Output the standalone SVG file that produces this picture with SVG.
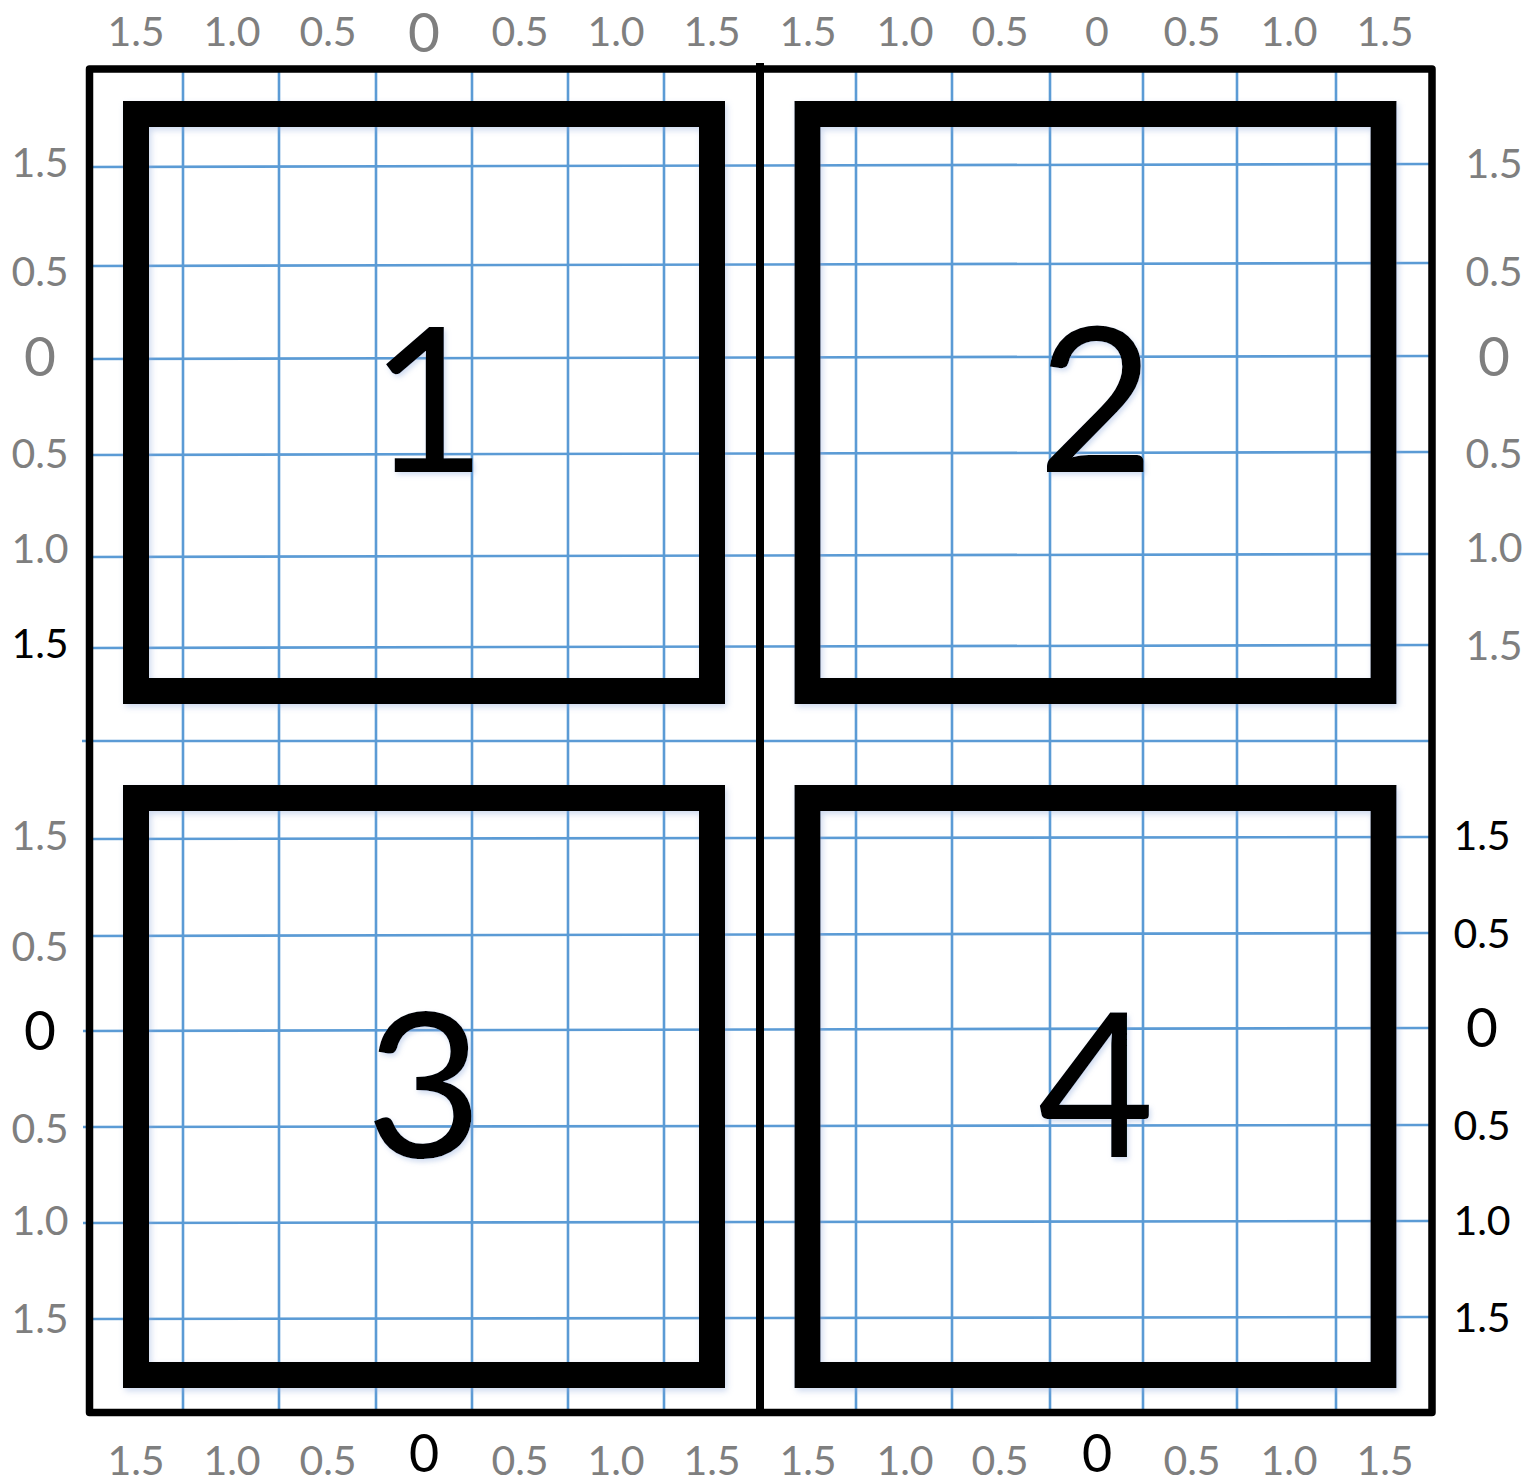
<svg xmlns="http://www.w3.org/2000/svg" width="1538" height="1484" viewBox="0 0 1538 1484">
<style>
.g{stroke:#5B9BD5;stroke-width:2.6;fill:none}
.f{stroke:#000;fill:none;stroke-linejoin:round}
.sq{fill:none;stroke:#000;stroke-width:26;filter:url(#sh)}
.t{font-family:Lato,"Liberation Sans",sans-serif;font-size:41px;fill:#7F7F7F;text-anchor:middle}
.k{fill:#000}
.z{font-size:55px}
.zb{font-size:52px}
.n{font-family:Lato,"Liberation Sans",sans-serif;font-size:202px;fill:#000;text-anchor:middle;filter:url(#sh2)}
</style>
<defs>
<filter id="sh" x="-5%" y="-5%" width="110%" height="110%">
<feDropShadow dx="2" dy="3" stdDeviation="3" flood-color="#8FAADC" flood-opacity="0.45"/>
</filter>
<filter id="sh2" x="-10%" y="-10%" width="120%" height="120%">
<feDropShadow dx="2" dy="3" stdDeviation="2.5" flood-color="#8FAADC" flood-opacity="0.4"/>
</filter>
</defs>
<rect width="1538" height="1484" fill="#fff"/>
<g id="grid">
<line class="g" x1="183" y1="67" x2="183" y2="1413"/>
<line class="g" x1="279" y1="67" x2="279" y2="1413"/>
<line class="g" x1="376" y1="67" x2="376" y2="1413"/>
<line class="g" x1="472" y1="67" x2="472" y2="1413"/>
<line class="g" x1="568" y1="67" x2="568" y2="1413"/>
<line class="g" x1="664" y1="67" x2="664" y2="1413"/>
<line class="g" x1="856" y1="67" x2="856" y2="1413"/>
<line class="g" x1="952" y1="67" x2="952" y2="1413"/>
<line class="g" x1="1050" y1="67" x2="1050" y2="1413"/>
<line class="g" x1="1143" y1="67" x2="1143" y2="1413"/>
<line class="g" x1="1237" y1="67" x2="1237" y2="1413"/>
<line class="g" x1="1336" y1="67" x2="1336" y2="1413"/>
<line class="g" x1="88" y1="167" x2="1431" y2="164"/>
<line class="g" x1="88" y1="266" x2="1431" y2="263"/>
<line class="g" x1="88" y1="359" x2="1431" y2="356"/>
<line class="g" x1="88" y1="455" x2="1431" y2="452"/>
<line class="g" x1="88" y1="557" x2="1431" y2="554"/>
<line class="g" x1="88" y1="648" x2="1431" y2="645"/>
<line class="g" x1="82" y1="741" x2="1429" y2="741"/>
<line class="g" x1="88" y1="839" x2="1429" y2="837"/>
<line class="g" x1="88" y1="936" x2="1429" y2="933"/>
<line class="g" x1="83" y1="1031" x2="1429" y2="1028"/>
<line class="g" x1="83" y1="1127" x2="1429" y2="1125"/>
<line class="g" x1="83" y1="1223" x2="1429" y2="1221"/>
<line class="g" x1="88" y1="1319" x2="1429" y2="1317"/>
</g>
<g id="frame">
<rect class="f" x="89.5" y="69" width="1342.5" height="1343.5" stroke-width="7.5"/>
<line class="f" x1="760" y1="63" x2="760" y2="1412" stroke-width="8"/>
</g>
<g id="node-1">
<rect class="sq" x="136" y="114" width="576" height="577"/>
<text class="n" x="428" y="472">1</text>
</g>
<g id="node-2">
<rect class="sq" x="807.5" y="114" width="576" height="577"/>
<text class="n" x="1096" y="472">2</text>
</g>
<g id="node-3">
<rect class="sq" x="136" y="798" width="576" height="577"/>
<text class="n" x="424" y="1157">3</text>
</g>
<g id="node-4">
<rect class="sq" x="807.5" y="798" width="576" height="577"/>
<text class="n" x="1096" y="1157">4</text>
</g>
<g id="labels-top">
<text class="t" x="136" y="46">1.5</text>
<text class="t" x="232" y="46">1.0</text>
<text class="t" x="328" y="46">0.5</text>
<text class="t z" x="424" y="52">0</text>
<text class="t" x="520" y="46">0.5</text>
<text class="t" x="616" y="46">1.0</text>
<text class="t" x="712" y="46">1.5</text>
<text class="t" x="808" y="46">1.5</text>
<text class="t" x="905" y="46">1.0</text>
<text class="t" x="1000" y="46">0.5</text>
<text class="t" x="1097" y="46">0</text>
<text class="t" x="1192" y="46">0.5</text>
<text class="t" x="1289" y="46">1.0</text>
<text class="t" x="1385" y="46">1.5</text>
</g>
<g id="labels-bottom">
<text class="t" x="136" y="1475">1.5</text>
<text class="t" x="232" y="1475">1.0</text>
<text class="t" x="328" y="1475">0.5</text>
<text class="t zb k" x="424" y="1472">0</text>
<text class="t" x="520" y="1475">0.5</text>
<text class="t" x="616" y="1475">1.0</text>
<text class="t" x="712" y="1475">1.5</text>
<text class="t" x="808" y="1475">1.5</text>
<text class="t" x="905" y="1475">1.0</text>
<text class="t" x="1000" y="1475">0.5</text>
<text class="t zb k" x="1097" y="1472">0</text>
<text class="t" x="1192" y="1475">0.5</text>
<text class="t" x="1289" y="1475">1.0</text>
<text class="t" x="1385" y="1475">1.5</text>
</g>
<g id="labels-left">
<text class="t" x="40" y="177">1.5</text>
<text class="t" x="40" y="286">0.5</text>
<text class="t z" x="40" y="376">0</text>
<text class="t" x="40" y="468">0.5</text>
<text class="t" x="40" y="563">1.0</text>
<text class="t k" x="40" y="658">1.5</text>
<text class="t" x="40" y="850">1.5</text>
<text class="t" x="40" y="961">0.5</text>
<text class="t z k" x="40" y="1050">0</text>
<text class="t" x="40" y="1143">0.5</text>
<text class="t" x="40" y="1235">1.0</text>
<text class="t" x="40" y="1333">1.5</text>
</g>
<g id="labels-right">
<text class="t" x="1494" y="178">1.5</text>
<text class="t" x="1494" y="286">0.5</text>
<text class="t z" x="1494" y="376">0</text>
<text class="t" x="1494" y="468">0.5</text>
<text class="t" x="1494" y="562">1.0</text>
<text class="t" x="1494" y="660">1.5</text>
<text class="t k" x="1482" y="850">1.5</text>
<text class="t k" x="1482" y="948">0.5</text>
<text class="t z k" x="1482" y="1047">0</text>
<text class="t k" x="1482" y="1140">0.5</text>
<text class="t k" x="1482" y="1235">1.0</text>
<text class="t k" x="1482" y="1332">1.5</text>
</g>
</svg>
